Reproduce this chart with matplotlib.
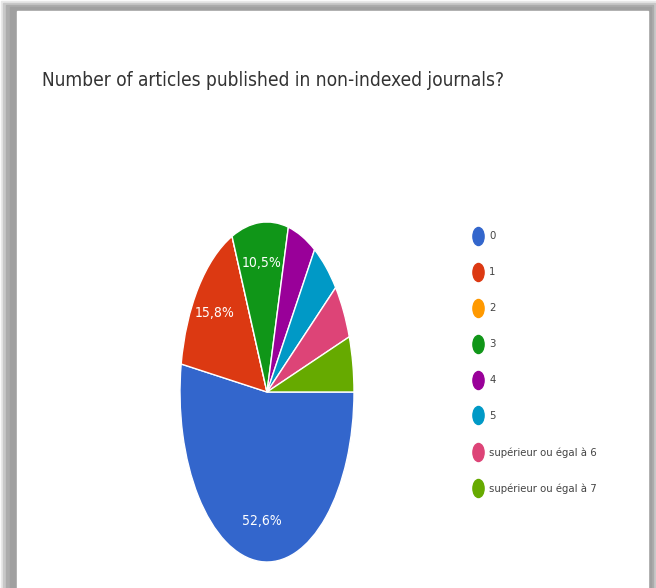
import matplotlib
matplotlib.use("Agg")
import matplotlib.pyplot as plt
from matplotlib.lines import Line2D
from matplotlib.patches import Rectangle
from matplotlib.path import Path
from matplotlib.transforms import Affine2D

plt.rcParams['font.family'] = ['DejaVu Sans']
plt.rcParams['font.stretch'] = 'condensed'

# Data
title = "Number of articles published in non-indexed journals?"
categories = ["0", "1", "2", "3", "4", "5",
              "supérieur ou égal à 6", "supérieur ou égal à 7"]
counts = [10, 3, 0, 2, 1, 1, 1, 1]
colors = ["#3366cc", "#dc3912", "#ff9900", "#109618",
          "#990099", "#0099c6", "#dd4477", "#66aa00"]

W, H = 656, 588
fig = plt.figure(figsize=(W / 100, H / 100), dpi=100)
fig.patch.set_facecolor("white")

# -------------------------------
# Frame with soft gray shadow
# -------------------------------
def px_rect(x0, y0, x1, y1, color):
    fig.patches.append(Rectangle((x0 / W, 1 - y1 / H), (x1 - x0) / W, (y1 - y0) / H,
                                 transform=fig.transFigure, color=color, zorder=-5))

px_rect(1, 1, 656, 588, "#e8e8e8")
px_rect(3, 3, 655, 588, "#c8c8c8")
px_rect(6, 5, 653, 588, "#acacac")
px_rect(10, 7, 651, 588, "#a0a0a0")
px_rect(17, 11, 648, 588, "white")

# Title
fig.text(42 / W, 1 - 80 / H, title, fontsize=13.7, color="#333333",
         ha="left", va="center")

# -------------------------------
# Pie (stretched vertically like the source)
# -------------------------------
ax = fig.add_axes([180 / W, 26 / H, 174 / W, 340 / H])


def pct_label(p):
    if p < 10:
        return ""
    return ("%.1f%%" % p).replace(".", ",")


wedges, texts, autotexts = ax.pie(
    counts, colors=colors, startangle=0, counterclock=False,
    autopct=pct_label, pctdistance=0.76,
    wedgeprops=dict(edgecolor="white", linewidth=1),
    textprops=dict(color="white", fontsize=10))
ax.set_aspect("auto")
ax.set_xlim(-1, 1)
ax.set_ylim(-1, 1)

# -------------------------------
# Legend with oval markers
# -------------------------------
oval = Path.unit_circle().transformed(Affine2D().scale(0.62, 1.0))
handles = [Line2D([], [], linestyle="none", marker=oval, markersize=13,
                  markerfacecolor=c, markeredgecolor=c) for c in colors]
fig.legend(handles, categories, loc="upper left",
           bbox_to_anchor=(468 / W, 1 - 227 / H), frameon=False,
           fontsize=8.1, labelspacing=2.31, handlelength=0.9,
           handletextpad=0.6, borderaxespad=0, labelcolor="#444444")

fig.savefig("out.png", dpi=100)
